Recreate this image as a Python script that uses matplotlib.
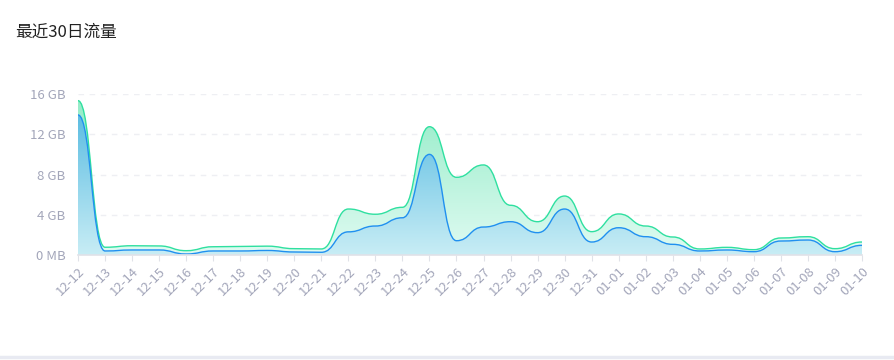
import numpy as np
import matplotlib
matplotlib.use('Agg')
import matplotlib.pyplot as plt
from matplotlib.path import Path
from matplotlib.patches import PathPatch
from matplotlib.colors import LinearSegmentedColormap

plt.rcParams['font.family'] = ['Noto Sans CJK SC', 'DejaVu Sans']

dates = ['12-12', '12-13', '12-14', '12-15', '12-16', '12-17', '12-18', '12-19', '12-20', '12-21',
         '12-22', '12-23', '12-24', '12-25', '12-26', '12-27', '12-28', '12-29', '12-30', '12-31',
         '01-01', '01-02', '01-03', '01-04', '01-05', '01-06', '01-07', '01-08', '01-09', '01-10']

# GB
total = [15.34, 0.77, 0.92, 0.90, 0.43, 0.82, 0.85, 0.88, 0.63, 0.60,
         4.57, 4.05, 4.74, 12.75, 7.72, 8.95, 4.94, 3.31, 5.86, 2.32,
         4.08, 2.88, 1.79, 0.60, 0.76, 0.53, 1.69, 1.82, 0.63, 1.29]
download = [13.92, 0.40, 0.50, 0.50, 0.10, 0.40, 0.40, 0.45, 0.30, 0.27,
            2.30, 2.88, 3.70, 10.00, 1.42, 2.78, 3.31, 2.22, 4.57, 1.29,
            2.71, 1.82, 1.06, 0.40, 0.50, 0.33, 1.39, 1.49, 0.33, 0.96]

yticks = [0, 4, 8, 12, 16]
ytick_labels = ['0 MB', '4 GB', '8 GB', '12 GB', '16 GB']


def smooth_path(xs, ys, smooth=0.5):
    # monotone-x bezier: flat tangent at each point
    verts = [(xs[0], ys[0])]
    codes = [Path.MOVETO]
    for i in range(len(xs) - 1):
        dx = xs[i + 1] - xs[i]
        verts += [(xs[i] + dx * smooth, ys[i]),
                  (xs[i + 1] - dx * smooth, ys[i + 1]),
                  (xs[i + 1], ys[i + 1])]
        codes += [Path.CURVE4] * 3
    return verts, codes


fig = plt.figure(figsize=(8.94, 3.6), dpi=100)
fig.patch.set_facecolor('white')
ax = fig.add_axes([78 / 894, 105 / 360, 784 / 894, 161 / 360])

x = np.arange(len(dates))


def draw_area(vals, line_color, top_color, bottom_color, z):
    verts, codes = smooth_path(x, vals)
    line = Path(verts, codes)
    ax.add_patch(PathPatch(line, fill=False, edgecolor=line_color, lw=1.0, zorder=z + 1,
                           capstyle='round', joinstyle='round'))
    area_verts = verts + [(x[-1], 0), (x[0], 0), verts[0]]
    area_codes = codes + [Path.LINETO, Path.LINETO, Path.CLOSEPOLY]
    area = PathPatch(Path(area_verts, area_codes), facecolor='none', edgecolor='none')
    ax.add_patch(area)
    cmap = LinearSegmentedColormap.from_list('g', [bottom_color, top_color])
    grad = np.linspace(0, 1, 256).reshape(-1, 1)
    im = ax.imshow(grad, cmap=cmap, origin='lower', aspect='auto',
                   extent=[x[0], x[-1], 0, max(vals)], zorder=z)
    im.set_clip_path(area)


draw_area(total, '#2fe0a0', '#95ecc8', '#e0fbf2', 2)
draw_area(download, '#2090f0', '#5cbde2', '#c8edf5', 4)

ax.set_xlim(x[0], x[-1])
ax.set_ylim(0, 16)
ax.set_yticks(yticks)
ax.set_yticklabels(ytick_labels)
ax.set_xticks(x)
ax.set_xticklabels(dates, rotation=45, ha='right', rotation_mode='anchor')

for v in yticks[1:]:
    ax.axhline(v, color='#eeeff3', lw=1, ls=(0, (4, 4)), zorder=1)

for s in ['top', 'right', 'left']:
    ax.spines[s].set_visible(False)
ax.spines['bottom'].set_color('#e0e2e8')
ax.spines['bottom'].set_linewidth(1.2)
ax.spines['bottom'].set_zorder(6)
ax.tick_params(axis='y', length=0, pad=9, labelsize=9.5, labelcolor='#a3a6ba')
ax.tick_params(axis='x', length=4, color='#e0e2e8', pad=3, labelsize=9.5, labelcolor='#a3a6ba')

fig.text(15 / 894, 1 - 32 / 360, '最近30日流量', fontsize=12, color='#222222', va='center', ha='left')
fig.add_artist(plt.Line2D([0, 1], [1 - 357 / 360, 1 - 357 / 360], color='#e8eaf2', lw=2.5,
                          transform=fig.transFigure))

fig.savefig('out.png', dpi=100, facecolor='white')
